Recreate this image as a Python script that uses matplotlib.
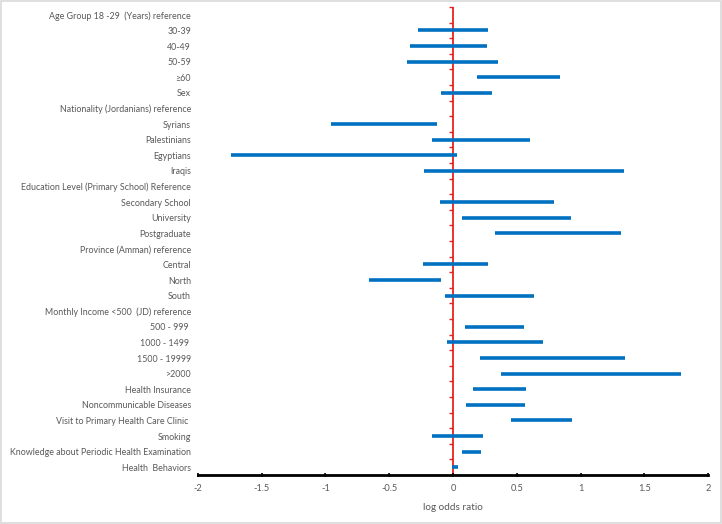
import matplotlib
matplotlib.use("Agg")
import matplotlib.pyplot as plt
from matplotlib.patches import Rectangle

labels = [
    "Age Group 18 -29  (Years) reference", "30-39", "40-49", "50-59", "\u226560", "Sex",
    "Nationality (Jordanians) reference", "Syrians", "Palestinians", "Egyptians", "Iraqis",
    "Education Level (Primary School) Reference", "Secondary School", "University", "Postgraduate",
    "Province (Amman) reference", "Central", "North", "South",
    "Monthly Income <500  (JD) reference", "500 - 999 ", "1000 - 1499 ", "1500 - 19999", ">2000",
    "Health Insurance", "Noncommunicable Diseases", "Visit to Primary Health Care Clinic ",
    "Smoking", "Knowledge about Periodic Health Examination", "Health  Behaviors",
]
lower = [None, -0.274, -0.340, -0.358, 0.188, -0.097,
         None, -0.960, -0.164, -1.740, -0.227,
         None, -0.099, 0.067, 0.331,
         None, -0.237, -0.657, -0.063,
         None, 0.094, -0.047, 0.214, 0.375,
         0.159, 0.102, 0.454, -0.164, 0.073, -0.008]
upper = [None, 0.271, 0.263, 0.352, 0.837, 0.305,
         None, -0.128, 0.605, 0.031, 1.338,
         None, 0.788, 0.923, 1.317,
         None, 0.271, -0.094, 0.636,
         None, 0.556, 0.707, 1.346, 1.786,
         0.571, 0.563, 0.934, 0.235, 0.216, 0.036]
xticks = [-2, -1.5, -1, -0.5, 0, 0.5, 1, 1.5, 2]

plt.rcParams['font.family'] = ['Lato', 'DejaVu Sans']
gray = '#595959'
fs = 6.4

fig = plt.figure(figsize=(7.22, 5.24), dpi=100)
ax = fig.add_axes([0.274, 0.0935, 0.707, 0.893])
fig.patches.append(Rectangle((0.001, 0.001), 0.997, 0.997, transform=fig.transFigure,
                             fill=False, edgecolor='#d9d9d9', linewidth=1.2))

n = len(labels)
ys = list(range(n))
for y, lo, hi in zip(ys, lower, upper):
    if lo is None:
        continue
    ax.plot([lo, hi], [y, y], color='#0070C0', linewidth=2.6, solid_capstyle='butt')

ax.set_xlim(-2, 2)
ax.set_ylim(n - 0.5, -0.5)
ax.set_yticks(ys)
ax.set_yticklabels(labels)
ax.tick_params(axis='y', length=0, pad=5, labelsize=fs, labelcolor=gray)
ax.set_xticks(xticks)
ax.set_xticklabels([f"{t:g}" for t in xticks])
ax.tick_params(axis='x', direction='inout', length=3, width=1.2, color='black',
               labelsize=fs + 0.3, labelcolor=gray, pad=5)
for s in ['left', 'right', 'top']:
    ax.spines[s].set_visible(False)
ax.spines['bottom'].set_linewidth(2)
ax.spines['bottom'].set_color('black')
ax.set_xlabel("log odds ratio", fontsize=fs + 0.8, color=gray, labelpad=7)

# red axis at x = 0 with category boundary ticks
ax.axvline(0, color='#e8231f', linewidth=1.3, zorder=1)
bounds = [i - 0.5 for i in range(n + 1)]
ax.plot([0] * len(bounds), bounds, linestyle='none', marker=0, markersize=3,
        markeredgewidth=1, color='#e8231f', clip_on=False)

fig.savefig("out.png", dpi=100)
